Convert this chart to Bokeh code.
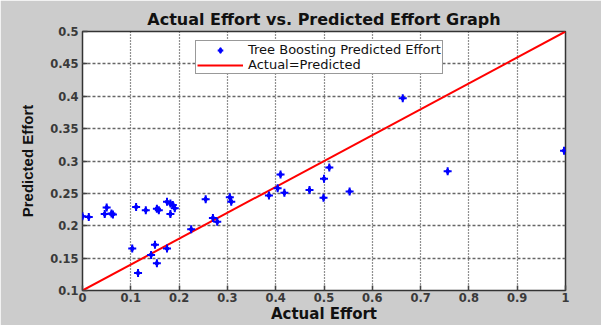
from bokeh.plotting import figure
from bokeh.models import FixedTicker, Legend, LegendItem, Range1d
from bokeh.embed import file_html
from bokeh.resources import INLINE

# Data
actual = [0.000, 0.013, 0.050, 0.046, 0.060, 0.063, 0.103, 0.111, 0.115, 0.131,
          0.142, 0.150, 0.154, 0.154, 0.158, 0.175, 0.175, 0.182, 0.187, 0.182,
          0.191, 0.225, 0.255, 0.270, 0.279, 0.305, 0.308, 0.386, 0.404, 0.410,
          0.418, 0.470, 0.499, 0.500, 0.511, 0.553, 0.663, 0.756, 0.997]
predicted = [0.2145, 0.2134, 0.228, 0.218, 0.219, 0.2175, 0.1647, 0.229, 0.127, 0.224,
             0.155, 0.1706, 0.142, 0.2264, 0.224, 0.1647, 0.237, 0.2344, 0.232, 0.218,
             0.227, 0.1945, 0.241, 0.212, 0.206, 0.244, 0.237, 0.2467, 0.258, 0.279,
             0.2508, 0.2552, 0.2433, 0.2727, 0.290, 0.2528, 0.397, 0.284, 0.316]
ref_x = [0.0, 1.0]
ref_y = [0.1, 0.5]

x_ticks = [0, 0.1, 0.2, 0.3, 0.4, 0.5, 0.6, 0.7, 0.8, 0.9, 1]
x_tick_labels = ["0", "0.1", "0.2", "0.3", "0.4", "0.5", "0.6", "0.7", "0.8", "0.9", "1"]
y_ticks = [0.1, 0.15, 0.2, 0.25, 0.3, 0.35, 0.4, 0.45, 0.5]
y_tick_labels = ["0.1", "0.15", "0.2", "0.25", "0.3", "0.35", "0.4", "0.45", "0.5"]

title_text = "Actual Effort vs. Predicted Effort Graph"
x_label = "Actual Effort"
y_label = "Predicted Effort"
series_label = "Tree Boosting Predicted Effort"
line_label = "Actual=Predicted"

WIDE = "DejaVu Sans"
FONT = "Liberation Sans"
BG = "#cccccc"

p = figure(width=601, height=325, output_backend="svg", toolbar_location=None,
           x_range=Range1d(0, 1), y_range=Range1d(0.1, 0.5),
           min_border_left=82, min_border_right=36, min_border_top=31, min_border_bottom=30,
           title=title_text)

p.background_fill_color = "white"
p.border_fill_color = BG
p.outline_line_color = "#333333"
p.outline_line_width = 1.5

p.title.text_font = WIDE
p.title.text_font_size = "16px"
p.title.text_font_style = "bold"
p.title.align = "center"
p.title.text_color = "#111111"
p.title.offset = -4
p.title.standoff = 5

for ax, ticks, labels in ((p.xaxis[0], x_ticks, x_tick_labels), (p.yaxis[0], y_ticks, y_tick_labels)):
    ax.ticker = FixedTicker(ticks=ticks)
    ax.major_label_overrides = {t: l for t, l in zip(ticks, labels)}
    ax.major_tick_in = 5
    ax.major_tick_out = 0
    ax.minor_tick_line_color = None
    ax.major_label_text_font = WIDE
    ax.major_label_text_font_size = "11.5px"
    ax.major_label_text_font_style = "bold"
    ax.major_label_text_color = "#3a3a3a"
    ax.axis_label_text_font_style = "bold"
    ax.axis_label_text_color = "#111111"
    ax.axis_line_color = None
    ax.major_tick_line_color = "#444444"
    ax.major_tick_line_width = 1.5

p.xaxis.axis_label = x_label
p.xaxis.axis_label_text_font = WIDE
p.xaxis.axis_label_text_font_size = "15px"
p.yaxis.axis_label = y_label
p.yaxis.axis_label_text_font = FONT
p.yaxis.axis_label_text_font_size = "15px"
p.xaxis.major_label_standoff = 2
p.xaxis.axis_label_standoff = 0
p.yaxis.major_label_standoff = 4
p.yaxis.axis_label_standoff = 11

p.xgrid.grid_line_color = "#222222"
p.xgrid.grid_line_dash = "1 2"
p.xgrid.grid_line_width = 1.2
p.ygrid.grid_line_color = "#666666"
p.ygrid.grid_line_dash = "3 2"
p.ygrid.grid_line_width = 1.5

r_line = p.line(ref_x, ref_y, line_color="red", line_width=2)
r_cross = p.scatter(actual, predicted, marker="cross", size=8, line_color="blue", line_width=2)
r_core = p.scatter(actual, predicted, marker="diamond", size=6, fill_color="blue", line_color="blue")

legend = Legend(items=[LegendItem(label=series_label, renderers=[r_cross, r_core]),
                       LegendItem(label=line_label, renderers=[r_line])],
                location=(113, 216))
legend.label_text_font = WIDE
legend.label_text_font_size = "13px"
legend.label_text_color = "#111111"
legend.label_height = 14
legend.glyph_height = 14
legend.glyph_width = 46
legend.label_standoff = 5
legend.spacing = 0
legend.padding = 1
legend.margin = 0
legend.border_line_color = "#333333"
legend.border_line_width = 1.5
legend.background_fill_color = "white"
legend.background_fill_alpha = 1
p.add_layout(legend, "center")

open("out.html", "w").write(file_html(p, INLINE))
